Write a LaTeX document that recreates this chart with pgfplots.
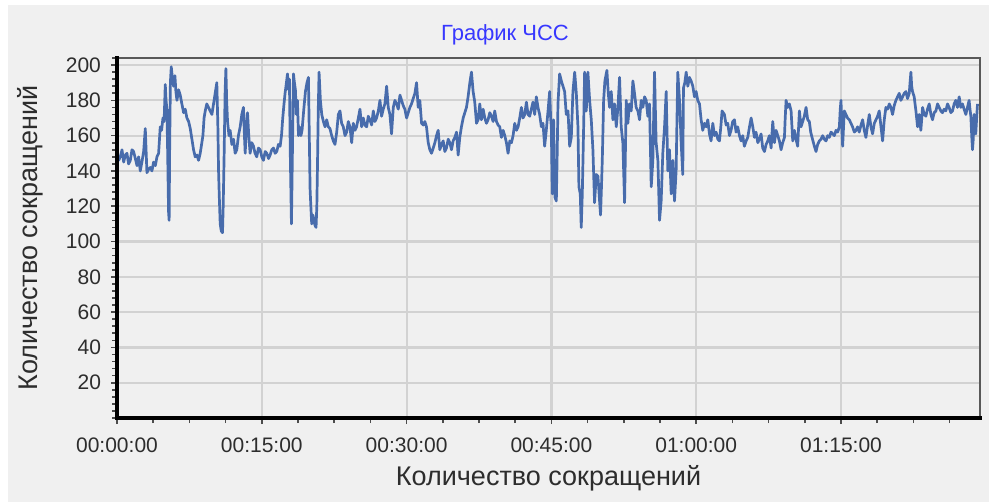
\documentclass[border=0pt]{standalone}
\usepackage{pgfplots}
\pgfplotsset{compat=1.18}
\usepackage{fontspec}
\setmainfont{Liberation Sans}
\definecolor{panel}{RGB}{240,240,240}
\definecolor{gridc}{RGB}{210,210,210}
\definecolor{linec}{RGB}{72,108,172}
\definecolor{titlec}{RGB}{55,55,255}
\definecolor{txt}{RGB}{45,45,45}
\begin{document}
\begin{tikzpicture}
\fill[white] (0,0) rectangle (494.5pt,-251pt);
\fill[panel] (4pt,-2.5pt) rectangle (494.5pt,-251pt);
\node[titlec, font=\fontsize{11}{13}\selectfont] at (252.5pt,-17.5pt) {График ЧСС};
\begin{axis}[
  at={(58.5pt,-209pt)}, anchor=south west,
  scale only axis, width=431.5pt, height=180pt,
  xmin=0, xmax=89.4, ymin=0, ymax=204,
  clip=false,
  axis background/.style={fill=panel},
  axis line style={draw=black!65, line width=1pt},
  xtick={0,15,30,45,60,75},
  xticklabels={00:00:00,00:15:00,00:30:00,00:45:00,01:00:00,01:15:00},
  minor xtick={0,3.75,...,89},
  ytick={20,40,...,200},
  minor ytick={0,4,...,204},
  tick pos=left, tick align=outside,
  major tick length=3pt, minor tick length=2.5pt,
  tick style={black!70, line width=0.8pt},
  grid=major, major grid style={gridc, line width=1.1pt},
  /pgf/number format/assume math mode=true,
  ticklabel style={txt, font=\fontsize{10.5}{12}\selectfont},
  xticklabel style={anchor=base, yshift=-14pt},
  yticklabel style={anchor=east, xshift=-1.5pt},
  xlabel={Количество сокращений},
  ylabel={Количество сокращений},
  label style={txt, font=\fontsize{13.5}{15}\selectfont},
  xlabel style={at={(axis description cs:0.5,0)}, anchor=center, yshift=-30pt},
  ylabel style={at={(axis description cs:0,0.5)}, anchor=center, yshift=43.5pt},
]
\addplot[linec, line width=1.35pt, line join=round] coordinates {
(0.0,150)(0.17,146)(0.34,148)(0.52,152)(0.69,145)(0.86,149)(1.03,150)(1.2,144)(1.38,146)(1.55,152)(1.72,151)(1.9,147)(2.07,143)(2.24,148)(2.41,140)(2.58,145)(2.76,151)(2.93,164)(3.10,139)(3.28,141)(3.45,142)(3.62,140)(3.79,145)(3.97,143)(4.14,148)(4.31,150)(4.48,165)(4.62,163)(4.76,170)(4.88,168)(5.0,189)(5.08,180)(5.17,175)(5.25,150)(5.34,117)(5.40,112)(5.45,150)(5.53,190)(5.62,199)(5.75,192)(5.86,188)(6.0,194)(6.1,185)(6.21,180)(6.38,186)(6.55,183)(6.72,178)(6.90,173)(7.07,175)(7.24,170)(7.42,168)(7.59,164)(7.76,158)(7.93,152)(8.1,148)(8.28,149)(8.45,146)(8.62,150)(8.76,155)(8.90,160)(9.02,170)(9.14,174)(9.3,178)(9.48,176)(9.65,174)(9.83,172)(10.0,178)(10.17,184)(10.34,190)(10.45,165)(10.52,140)(10.6,125)(10.69,110)(10.8,106)(10.93,105)(11.0,120)(11.10,150)(11.2,185)(11.28,198)(11.36,180)(11.45,168)(11.6,160)(11.72,163)(11.9,155)(12.07,158)(12.24,150)(12.41,152)(12.58,160)(12.76,165)(12.93,172)(13.10,176)(13.2,160)(13.28,150)(13.4,165)(13.52,173)(13.65,160)(13.79,150)(13.96,156)(14.14,154)(14.3,150)(14.48,148)(14.65,153)(14.83,152)(15.0,148)(15.17,146)(15.35,151)(15.52,150)(15.7,147)(15.86,149)(16.03,152)(16.21,153)(16.38,150)(16.55,151)(16.72,155)(16.90,154)(17.04,160)(17.17,170)(17.3,178)(17.41,184)(17.55,190)(17.66,195)(17.76,186)(17.86,192)(17.95,150)(18.07,110)(18.17,150)(18.28,195)(18.38,190)(18.48,186)(18.58,172)(18.69,180)(18.8,160)(18.90,165)(19.05,160)(19.17,163)(19.35,175)(19.52,185)(19.68,190)(19.83,193)(19.92,160)(20.0,130)(20.08,120)(20.17,110)(20.3,115)(20.41,112)(20.52,109)(20.62,108)(20.70,120)(20.76,140)(20.85,175)(20.93,196)(21.07,180)(21.21,172)(21.38,168)(21.55,165)
(21.72,169)(21.89,165)(22.06,164)(22.24,160)(22.41,157)(22.58,155)(22.76,162)(22.93,172)(23.10,174)(23.27,167)(23.44,165)(23.62,160)(23.79,162)(23.96,168)(24.13,165)(24.31,156)(24.48,167)(24.65,163)(24.82,165)(25.0,170)(25.17,175)(25.34,165)(25.51,170)(25.68,166)(25.86,165)(26.03,171)(26.20,169)(26.38,166)(26.55,174)(26.72,168)(26.89,170)(27.07,174)(27.24,180)(27.41,171)(27.58,175)(27.75,178)(27.93,188)(28.10,176)(28.27,172)(28.44,161)(28.62,176)(28.79,180)(28.96,178)(29.14,175)(29.31,183)(29.48,180)(29.65,177)(29.82,175)(30.0,170)(30.17,173)(30.34,176)(30.51,178)(30.68,181)(30.86,184)(31.03,190)(31.20,176)(31.37,180)(31.55,167)(31.72,166)(31.89,168)(32.06,165)(32.24,156)(32.41,152)(32.58,150)(32.76,153)(32.93,156)(33.1,160)(33.27,163)(33.44,152)(33.62,155)(33.79,157)(33.96,151)(34.13,153)(34.31,158)(34.48,156)(34.65,152)(34.82,157)(35.0,159)(35.17,162)(35.34,149)(35.51,159)(35.68,165)(35.86,170)(36.03,173)(36.20,176)(36.37,182)(36.55,190)(36.72,196)(36.89,185)(37.06,179)(37.24,167)(37.41,169)(37.58,178)(37.75,169)(37.93,175)(38.1,170)(38.27,167)(38.44,169)(38.62,173)(38.79,171)(38.96,168)(39.13,174)(39.31,168)(39.48,166)(39.65,165)(39.82,159)(40.0,163)(40.17,160)(40.34,156)(40.51,150)(40.69,157)(40.86,156)(41.03,160)(41.20,167)(41.38,163)(41.55,165)(41.72,170)(41.89,176)(42.06,170)(42.24,172)(42.41,179)
(42.58,172)(42.75,171)(42.92,175)(43.09,179)(43.27,172)(43.44,182)(43.61,176)(43.78,172)(43.96,165)(44.13,167)(44.30,154)(44.47,163)(44.65,174)(44.82,185)(44.92,170)(44.99,165)(45.09,127)(45.16,150)(45.23,169)(45.30,140)(45.37,125)(45.51,123)(45.60,150)(45.68,178)(45.85,195)(46.03,191)(46.20,188)(46.37,185)(46.54,172)(46.72,174)(46.89,154)(47.06,159)(47.23,185)(47.41,196)(47.58,184)(47.75,165)(47.85,131)(47.99,127)(48.09,108)(48.20,127)(48.34,165)(48.44,196)(48.52,180)(48.61,174)(48.70,185)(48.78,196)(48.96,180)(49.13,169)(49.30,152)(49.47,122)(49.65,138)(49.82,137)(49.99,123)(50.09,115)(50.18,130)(50.27,146)(50.41,180)(50.54,191)(50.75,197)(50.89,184)(51.03,176)(51.20,185)(51.37,169)(51.54,178)(51.72,165)(51.89,176)(52.06,193)(52.23,165)(52.40,156)(52.58,122)(52.75,180)(52.92,167)(53.09,178)(53.27,174)(53.44,191)(53.61,184)(53.78,176)(53.96,174)(54.13,169)(54.30,180)(54.47,176)(54.65,182)(54.82,180)(54.99,171)(55.16,178)(55.34,131)(55.51,146)(55.68,196)(55.85,156)(56.03,146)(56.20,112)(56.37,123)(56.54,150)(56.72,165)(56.89,185)(57.06,140)(57.23,152)(57.41,127)(57.58,146)(57.75,123)(57.92,140)(58.09,196)(58.27,180)(58.44,156)(58.61,138)(58.68,187)(58.82,190)(58.96,196)(59.13,188)(59.30,193)(59.47,191)(59.65,188)(59.82,182)(59.99,185)(60.16,180)(60.34,178)(60.51,169)(60.68,163)(60.86,167)(61.03,165)(61.20,169)(61.37,161)(61.54,157)(61.72,167)(61.89,160)(62.06,162)(62.24,158)(62.41,157)(62.55,165)(62.68,174)(62.92,172)(63.1,166)(63.27,167)(63.44,160)(63.61,163)(63.78,168)(63.96,169)(64.13,162)(64.30,165)(64.48,160)(64.65,157)(64.82,160)(64.99,154)(65.17,157)(65.34,159)
(65.52,165)(65.69,170)(65.86,165)(66.03,159)(66.2,162)(66.38,156)(66.55,158)(66.72,161)(66.89,153)(67.07,151)(67.24,155)(67.41,157)(67.58,160)(67.76,153)(67.93,168)(68.10,156)(68.27,163)(68.45,160)(68.62,157)(68.79,152)(68.96,156)(69.14,159)(69.22,170)(69.31,180)(69.48,176)(69.65,178)(69.83,174)(70.0,157)(70.17,163)(70.34,158)(70.51,154)(70.69,174)(70.86,165)(71.03,168)(71.20,171)(71.38,176)(71.55,169)(71.72,168)(71.86,162)(72.0,159)(72.24,154)(72.41,151)(72.58,155)(72.76,157)(72.93,158)(73.10,160)(73.27,158)(73.45,157)(73.62,160)(73.79,159)(73.96,162)(74.14,161)(74.31,160)(74.48,163)(74.65,162)(74.83,165)(74.92,175)(75.0,180)(75.08,165)(75.17,154)(75.34,174)(75.51,172)(75.68,170)(75.86,169)(76.03,167)(76.20,165)(76.38,162)(76.55,163)(76.72,165)(76.89,162)(77.07,166)(77.24,169)(77.41,163)(77.58,159)(77.76,166)(77.93,172)(78.10,165)(78.27,161)(78.45,167)(78.62,169)(78.79,171)(78.96,174)(79.14,165)(79.31,157)(79.48,169)(79.65,176)(79.83,175)(80.0,178)(80.17,176)(80.34,172)(80.51,177)(80.69,180)(80.86,182)(81.03,184)(81.2,180)(81.38,182)(81.55,184)(81.72,185)(81.89,181)(82.07,184)(82.15,190)(82.24,196)(82.32,188)(82.41,185)(82.58,182)(82.76,174)(82.93,165)(83.10,172)(83.27,163)(83.45,176)(83.62,172)(83.79,171)(83.96,175)(84.14,178)(84.31,172)(84.48,169)(84.65,173)(84.83,174)(85.0,178)(85.17,176)(85.34,174)(85.51,173)(85.68,175)(85.86,174)(86.03,178)(86.20,176)(86.38,173)(86.55,174)(86.72,178)(86.89,180)(87.07,176)(87.24,182)(87.41,176)(87.58,178)(87.75,175)(87.93,172)(88.1,176)(88.27,180)(88.36,175)(88.45,171)(88.54,160)(88.62,152)(88.70,158)(88.79,172)(88.88,165)(88.96,161)(89.05,170)(89.14,178)
};
\draw[black, line width=1.6pt, line cap=rect] (rel axis cs:0,1) -- (rel axis cs:0,0) -- (rel axis cs:1,0);
\end{axis}
\pgfresetboundingbox
\path[use as bounding box] (0,0) rectangle (494.5pt,-251pt);
\end{tikzpicture}
\end{document}
